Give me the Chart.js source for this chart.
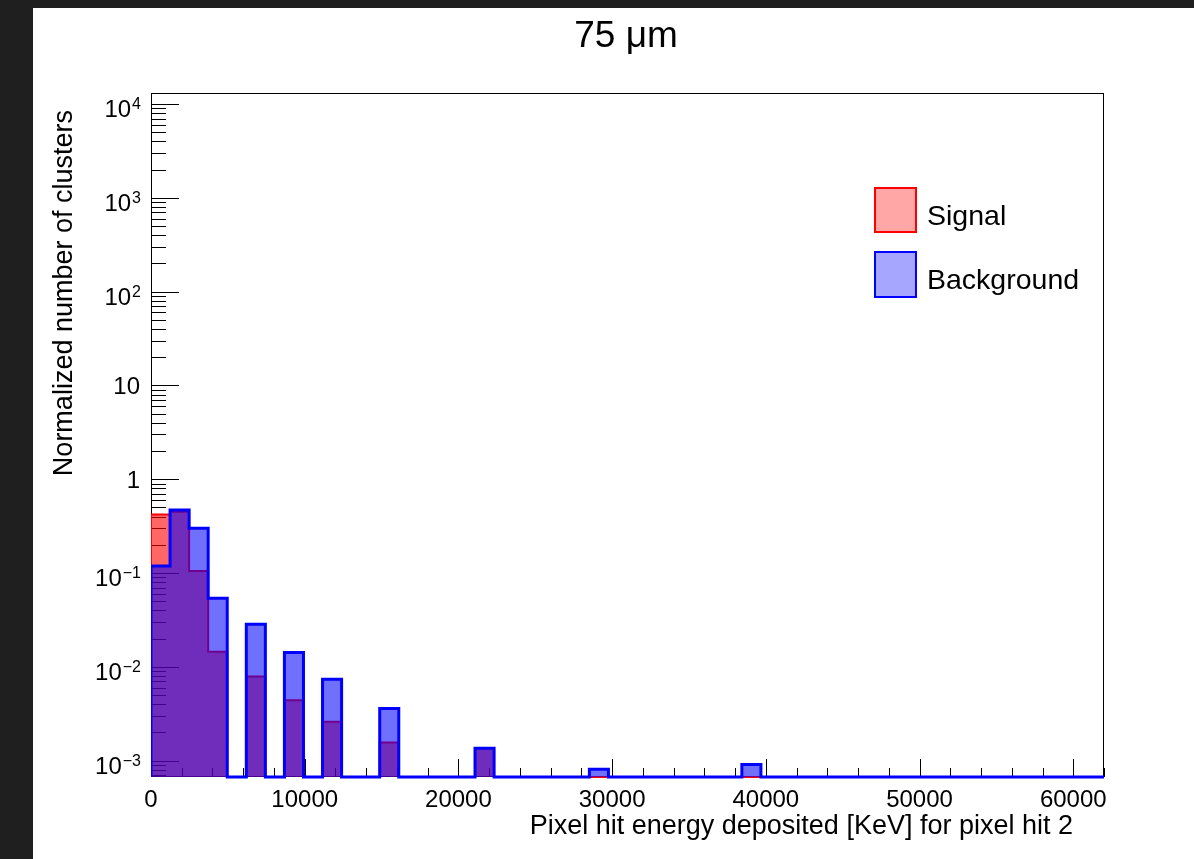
<!DOCTYPE html>
<html><head><meta charset="utf-8">
<script src="https://cdn.jsdelivr.net/npm/chart.js@4.4.0/dist/chart.umd.min.js"></script>
<style>html,body{margin:0;padding:0;background:#1f1f1f;overflow:hidden}
#wrap{position:absolute;left:0;top:0;width:1194px;height:859px}</style>
</head><body><div id="wrap"><canvas id="c" width="1194" height="859"></canvas></div>
<script>
const chartTitle = '75 \u03bcm';
const xTitle = 'Pixel hit energy deposited [KeV] for pixel hit 2';
const yTitle = 'Normalized number of clusters';
const seriesNames = ['Signal', 'Background'];
const xMin = 0, xMax = 62000, nBins = 50;
const yMin = 6.7e-4, yMax = 1.31e4;
const signalValues = [0.42,0.45,0.105,0.0145,0,0.0079,0,0.0044,0,0.0026,
  0,0,0.00156,0,0,0,0,0.00136,0,0,
  0,0,0,0,0,0,0,0,0,0,
  0,0,0,0,0,0,0,0,0,0,
  0,0,0,0,0,0,0,0,0,0];
const backgroundValues = [0.119,0.47,0.30,0.054,0,0.0284,0,0.0142,0,0.0074,
  0,0,0.0036,0,0,0,0,0.00136,0,0,
  0,0,0,0.00081,0,0,0,0,0,0,
  0,0.00091,0,0,0,0,0,0,0,0,
  0,0,0,0,0,0,0,0,0,0];
const xTickValues = [0,10000,20000,30000,40000,50000,60000];
const xTickLabels = ['0','10000','20000','30000','40000','50000','60000'];
const yTickValues = [1e4,1e3,1e2,10,1,0.1,0.01,0.001];
const yTickBase = ['10','10','10','10','1','10','10','10'];
const yTickExp = ['4','3','2','','','\u22121','\u22122','\u22123'];

const FONT = '"Liberation Sans", Arial, Helvetica, sans-serif';

function histPoints(vals) {
  const w = (xMax - xMin) / nBins;
  const pts = [{x: xMin, y: yMin}];
  vals.forEach((v, i) => pts.push({x: xMin + i * w, y: v > 0 ? v : yMin}));
  const last = vals[vals.length - 1];
  pts.push({x: xMax, y: last > 0 ? last : yMin});
  pts.push({x: xMax, y: yMin});
  return pts;
}

const rootStyle = {
  id: 'rootStyle',
  beforeDraw(chart) {
    const ctx = chart.ctx;
    ctx.save();
    ctx.fillStyle = '#1f1f1f';
    ctx.fillRect(0, 0, chart.width, chart.height);
    ctx.fillStyle = '#ffffff';
    ctx.fillRect(33, 8, chart.width - 33, chart.height - 8);
    ctx.restore();
  },
  beforeDatasetsDraw(chart) {
    const ctx = chart.ctx, a = chart.chartArea;
    const xs = chart.scales.x, ys = chart.scales.y;
    ctx.save();
    ctx.strokeStyle = '#000';
    ctx.lineWidth = 1;
    ctx.strokeRect(a.left + 0.5, a.top + 0.5, a.right - a.left - 1, a.bottom - a.top - 1);
    ctx.beginPath();
    for (let k = -4; k <= 4; k++) {
      for (let m = 1; m <= 9; m++) {
        const v = m * Math.pow(10, k);
        if (v < yMin || v > yMax) continue;
        const py = Math.round(ys.getPixelForValue(v)) + 0.5;
        const len = m === 1 ? 28 : 15;
        ctx.moveTo(a.left, py); ctx.lineTo(a.left + len, py);
      }
    }
    for (let v = xMin; v <= xMax; v += 2000) {
      const px = Math.round(xs.getPixelForValue(v)) + 0.5;
      const len = v % 10000 === 0 ? 18 : 9;
      ctx.moveTo(px, a.bottom); ctx.lineTo(px, a.bottom - len);
    }
    ctx.stroke();

    ctx.fillStyle = '#000';
    ctx.font = '24px ' + FONT;
    ctx.textAlign = 'center';
    ctx.textBaseline = 'alphabetic';
    xTickValues.forEach((v, i) => {
      ctx.fillText(xTickLabels[i], xs.getPixelForValue(v), 807);
    });
    yTickValues.forEach((v, i) => {
      const py = ys.getPixelForValue(v);
      const rx = 141;
      ctx.textAlign = 'right';
      if (yTickExp[i]) {
        ctx.font = '16px ' + FONT;
        const ew = ctx.measureText(yTickExp[i]).width;
        ctx.fillText(yTickExp[i], rx, py + 5);
        ctx.font = '24px ' + FONT;
        ctx.fillText(yTickBase[i], rx - ew - 1, py + 13);
      } else {
        ctx.font = '24px ' + FONT;
        ctx.fillText(yTickBase[i], rx - 1, py + 9);
      }
    });
    ctx.font = '27px ' + FONT;
    ctx.textAlign = 'right';
    ctx.fillText(xTitle, 1073, 834);
    ctx.save();
    ctx.translate(72, 110);
    ctx.rotate(-Math.PI / 2);
    ctx.textAlign = 'right';
    ctx.fillText(yTitle, 0, 0);
    ctx.restore();
    ctx.font = '37px ' + FONT;
    ctx.textAlign = 'center';
    ctx.fillText(chartTitle, 626, 47);
    ctx.restore();
  },
  afterDatasetsDraw(chart) {
    const ctx = chart.ctx;
    ctx.save();
    const boxes = [
      {y: 188, h: 44, fill: 'rgba(255,0,0,0.35)', stroke: '#ff0000', label: seriesNames[0], base: 224.5},
      {y: 252, h: 45, fill: 'rgba(0,0,255,0.35)', stroke: '#0000ff', label: seriesNames[1], base: 289}
    ];
    boxes.forEach(b => {
      ctx.fillStyle = b.fill;
      ctx.fillRect(875, b.y, 41, b.h);
      ctx.strokeStyle = b.stroke;
      ctx.lineWidth = 2;
      ctx.strokeRect(875, b.y, 41, b.h);
      ctx.fillStyle = '#000';
      ctx.font = '28.5px ' + FONT;
      ctx.textAlign = 'left';
      ctx.textBaseline = 'alphabetic';
      ctx.fillText(b.label, 927, b.base);
    });
    ctx.restore();
  }
};

new Chart(document.getElementById('c'), {
  type: 'line',
  data: {
    datasets: [
      {
        label: seriesNames[0],
        data: histPoints(signalValues),
        borderColor: '#ff0000',
        backgroundColor: 'rgba(255,0,0,0.6)',
        borderWidth: 2,
        fill: 'start',
        stepped: true,
        pointRadius: 0,
        tension: 0,
        order: 2,
        clip: {left: 0, top: 0, right: 0, bottom: 2}
      },
      {
        label: seriesNames[1],
        data: histPoints(backgroundValues),
        borderColor: '#0000ff',
        backgroundColor: 'rgba(0,0,255,0.56)',
        borderWidth: 3,
        fill: 'start',
        stepped: true,
        pointRadius: 0,
        tension: 0,
        order: 1,
        clip: {left: 0, top: 0, right: 0, bottom: 2}
      }
    ]
  },
  options: {
    responsive: false,
    animation: false,
    devicePixelRatio: 1,
    layout: {padding: {left: 151, top: 93, right: 90, bottom: 82}},
    plugins: {legend: {display: false}, title: {display: false}, tooltip: {enabled: false}},
    scales: {
      x: {type: 'linear', min: xMin, max: xMax, bounds: 'data', display: false},
      y: {type: 'logarithmic', min: yMin, max: yMax, bounds: 'data', display: false}
    }
  },
  plugins: [rootStyle]
});
</script>
</body></html>
